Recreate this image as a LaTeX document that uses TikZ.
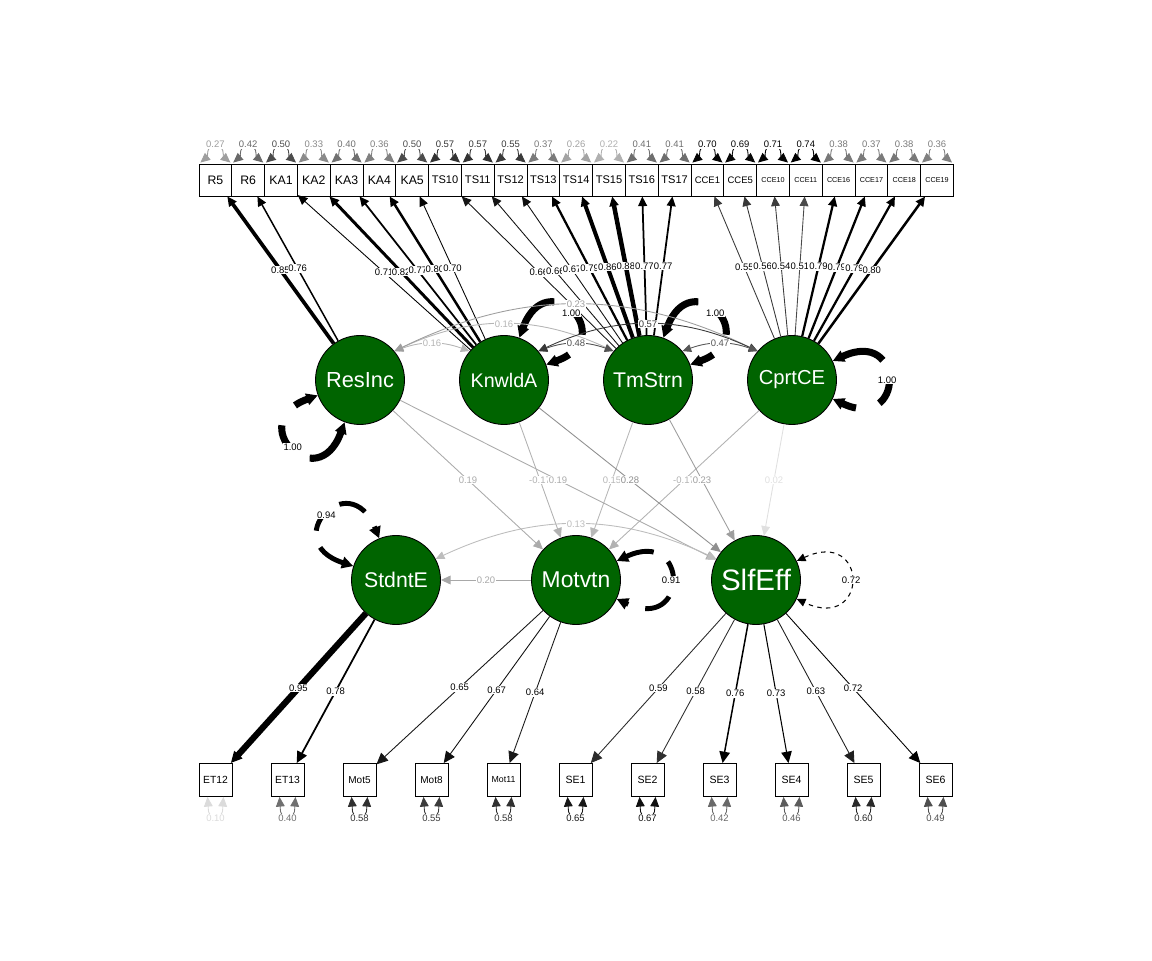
\documentclass[tikz,border=0pt]{standalone}
\usepackage{fontspec}
\setmainfont{Liberation Sans}
\usepackage{tikz}
\usetikzlibrary{arrows.meta,positioning,calc}
\definecolor{latgreen}{HTML}{006400}
\newcommand{\lfont}[1]{\fontsize{#1}{#1}\selectfont}

\begin{document}
\begin{tikzpicture}[x=0.02cm, y=0.02cm,
    lat/.style={circle, draw=black, line width=0.5pt, fill=latgreen, text=white, minimum size=1.78cm, inner sep=0pt},
    indtop/.style={rectangle, draw=black, line width=0.5pt, fill=white, minimum width=0.656cm, minimum height=0.64cm, inner sep=0pt},
    indbot/.style={rectangle, draw=black, line width=0.5pt, fill=white, minimum size=0.66cm, inner sep=0pt},
    elab/.style={font=\lfont{5.4}, fill=white, inner sep=0.5pt},
    tip/.style={-{Triangle[length=5.5pt,width=5pt]}},
    bigtip/.style={-{Triangle[length=6.5pt,width=6pt]}},
    dtip/.style={{Triangle[length=5pt,width=4.5pt]}-{Triangle[length=5pt,width=4.5pt]}},
    rtip/.style={{Triangle[length=5.5pt,width=5pt]}-{Triangle[length=5.5pt,width=5pt]}, line width=0.5pt},
    ltip/.style={{Triangle[length=6.5pt,width=6.5pt]}-{Triangle[length=6.5pt,width=6.5pt]}},
    loopthick/.style={ltip, line width=4pt, dash pattern=on 25pt off 13pt on 14pt off 14pt},
    loopmid/.style={ltip, line width=2.8pt, dash pattern=on 16pt off 10pt on 11pt off 10pt},
    loopthin/.style={dtip, line width=0.6pt, dash pattern=on 2.5pt off 2.5pt}]
    \useasboundingbox (0,0) rectangle (1152,960);

    % latent variables
    \node[lat, font=\lfont{12.4}] (ResInc) at (360,580) {ResInc};
    \node[lat, font=\lfont{11.2}] (KnwldA) at (504,580) {KnwldA};
    \node[lat, font=\lfont{12.1}] (TmStrn) at (648,580) {TmStrn};
    \node[lat, font=\lfont{11.5}] (CprtCE) at (792,580) {CprtCE};
    \node[lat, font=\lfont{12.1}] (StdntE) at (396,380) {StdntE};
    \node[lat, font=\lfont{13}] (Motvtn) at (576,380) {Motvtn};
    \node[lat, font=\lfont{16.8}] (SlfEff) at (756,380) {SlfEff};

    % indicators, top row
    \foreach \n/\f [count=\i from 0] in {R5/7,R6/7,KA1/7,KA2/7,KA3/7,KA4/7,KA5/7,TS10/6.3,TS11/6.3,TS12/6.3,TS13/6.3,TS14/6.3,TS15/6.3,TS16/6.3,TS17/6.3,CCE1/5.4,CCE5/5.4,CCE10/4.1,CCE11/4.1,CCE16/4.1,CCE17/4.1,CCE18/4.1,CCE19/4.1}
        \node[indtop, font=\lfont{\f}] (\n) at ({199+32.8*(\i+0.5)},780) {\n};

    % indicators, bottom row
    \foreach \n/\f [count=\i from 0] in {ET12/5.9,ET13/5.9,Mot5/5.7,Mot8/5.7,Mot11/5,SE1/6,SE2/6,SE3/6,SE4/6,SE5/6,SE6/6}
        \node[indbot, font=\lfont{\f}] (\n) at ({215.5+72*\i},180) {\n};

    % residuals of the top indicators
    \foreach \n/\v/\c in {R5/0.27/38,R6/0.42/59,KA1/0.50/70,KA2/0.33/46,KA3/0.40/56,KA4/0.36/50,KA5/0.50/70,TS10/0.57/80,TS11/0.57/80,TS12/0.55/77,TS13/0.37/52,TS14/0.26/36,TS15/0.22/31,TS16/0.41/57,TS17/0.41/57,CCE1/0.70/98,CCE5/0.69/97,CCE10/0.71/99,CCE11/0.74/100,CCE16/0.38/53,CCE17/0.37/52,CCE18/0.38/53,CCE19/0.36/50} {
        \draw[rtip, draw=black!\c] ($(\n.north)+(-15,1)$) to[out=40,in=180] ($(\n.north)+(0,19)$) to[out=0,in=140] ($(\n.north)+(15,1)$);
        \node[elab, text=black!\c] (r\n) at ($(\n.north)+(0,19)$) {\v};
    }

    % residuals of the bottom indicators
    \foreach \n/\v/\c in {ET12/0.10/14,ET13/0.40/56,Mot5/0.58/81,Mot8/0.55/77,Mot11/0.58/81,SE1/0.65/91,SE2/0.67/94,SE3/0.42/59,SE4/0.46/64,SE5/0.60/84,SE6/0.49/69} {
        \draw[rtip, draw=black!\c] ($(\n.south)+(-8,0)$) to[out=-85,in=180] ($(\n.south)+(0,-21)$) to[out=0,in=-95] ($(\n.south)+(8,0)$);
        \node[elab, text=black!\c] (r\n) at ($(\n.south)+(0,-21)$) {\v};
    }

    % loadings
    \foreach \l/\n/\v/\w/\c in {ResInc/R5/0.85/2.1/100,ResInc/R6/0.76/0.85/100,KnwldA/KA1/0.71/0.5/100,KnwldA/KA2/0.82/1.7/100,KnwldA/KA3/0.77/1.0/100,KnwldA/KA4/0.80/1.42/100,KnwldA/KA5/0.70/0.5/98,TmStrn/TS10/0.66/0.5/92,TmStrn/TS11/0.66/0.5/92,TmStrn/TS12/0.67/0.5/94,TmStrn/TS13/0.79/1.28/100,TmStrn/TS14/0.86/2.27/100,TmStrn/TS15/0.88/2.56/100,TmStrn/TS16/0.77/1.0/100,TmStrn/TS17/0.77/1.0/100,CprtCE/CCE1/0.55/0.5/77,CprtCE/CCE5/0.56/0.5/78,CprtCE/CCE10/0.54/0.5/76,CprtCE/CCE11/0.51/0.5/71,CprtCE/CCE16/0.79/1.28/100,CprtCE/CCE17/0.79/1.28/100,CprtCE/CCE18/0.79/1.28/100,CprtCE/CCE19/0.80/1.42/100}
        \draw[tip, line width=\w pt, draw=black!\c] (\l) -- node[elab]{\v} (\n);
    \foreach \l/\n/\v/\w/\c in {StdntE/ET12/0.95/3.55/100,StdntE/ET13/0.78/1.0/100,Motvtn/Mot5/0.65/0.5/91,Motvtn/Mot8/0.67/0.5/94,Motvtn/Mot11/0.64/0.5/90,SlfEff/SE1/0.59/0.5/83,SlfEff/SE2/0.58/0.5/81,SlfEff/SE3/0.76/0.85/100,SlfEff/SE4/0.73/0.6/100,SlfEff/SE5/0.63/0.5/88,SlfEff/SE6/0.72/0.5/100}
        \draw[bigtip, line width=\w pt, draw=black!\c] (\l) -- node[elab]{\v} (\n);

    % latent variances
    \draw[loopthick] (ResInc.250) .. controls +(250:80) and +(200:80) .. node[elab]{1.00} (ResInc.200);
    \draw[loopthick] (KnwldA.70) .. controls +(70:80) and +(20:80) .. node[elab]{1.00} (KnwldA.20);
    \draw[loopthick] (TmStrn.70) .. controls +(70:80) and +(20:80) .. node[elab]{1.00} (TmStrn.20);
    \draw[loopthick] (CprtCE.25) .. controls +(25:80) and +(-25:80) .. node[elab]{1.00} (CprtCE.-25);
    \draw[loopmid] (StdntE.162) .. controls +(162:80) and +(112:80) .. node[elab]{0.94} (StdntE.112);
    \draw[loopmid] (Motvtn.25) .. controls +(25:80) and +(-25:80) .. node[elab]{0.91} (Motvtn.-25);
    \draw[loopthin] (SlfEff.25) .. controls +(25:80) and +(-25:80) .. node[elab]{0.72} (SlfEff.-25);

    % regressions
    \foreach \a/\b/\v/\c in {ResInc/Motvtn/0.19/33,KnwldA/Motvtn/-0.17/30,TmStrn/Motvtn/0.15/28,CprtCE/Motvtn/-0.17/30,ResInc/SlfEff/0.19/33,KnwldA/SlfEff/0.28/44,TmStrn/SlfEff/0.23/38,CprtCE/SlfEff/0.02/12,Motvtn/StdntE/0.20/34}
        \draw[tip, line width=0.5pt, draw=black!\c] (\a) -- node[elab, text=black!\c]{\v} (\b);

    % covariances
    \foreach \a/\b/\o/\u/\v/\c in {ResInc/KnwldA/20/160/0.16/29,ResInc/TmStrn/25/155/0.16/29,ResInc/CprtCE/26/154/0.23/38,KnwldA/TmStrn/20/160/0.48/68,KnwldA/CprtCE/25/155/0.57/78,TmStrn/CprtCE/20/160/0.47/66}
        \draw[dtip, line width=0.5pt, draw=black!\c] (\a.40) to[out=\o,in=\u] node[elab, text=black!\c]{\v} (\b.140);
    \draw[dtip, line width=0.5pt, draw=black!26] (SlfEff.152) to[out=155,in=25] node[elab, text=black!26]{0.13} (StdntE.28);
\end{tikzpicture}
\end{document}
